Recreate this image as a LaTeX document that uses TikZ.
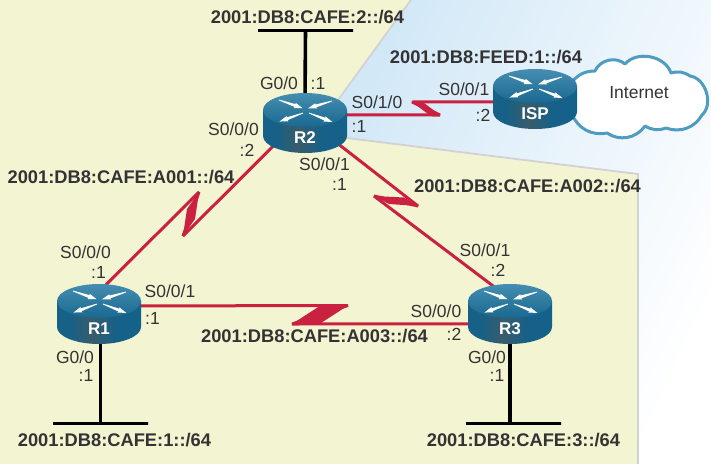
\documentclass[tikz,border=0pt]{standalone}
\usepackage{fontspec}
\setmainfont{Liberation Sans}
\usetikzlibrary{calc}
\pgfdeclarelayer{bg}
\pgfdeclarelayer{links}
\pgfsetlayers{bg,links,main}
\definecolor{txt}{HTML}{333333}
\definecolor{wire}{HTML}{C9213F}
\definecolor{paper}{HTML}{F3F4D2}
\definecolor{cloudline}{HTML}{4F9BC1}
\definecolor{rtop}{HTML}{237AA3}
\definecolor{rtopb}{HTML}{1A6890}
\definecolor{skyblue}{HTML}{D2E8F7}
\pgfdeclarehorizontalshading{routerbody}{100bp}{
 color(0bp)=(rgb:red,0.10;green,0.36;blue,0.50);
 color(32bp)=(rgb:red,0.09;green,0.39;blue,0.55);
 color(46bp)=(rgb:red,0.40;green,0.66;blue,0.77);
 color(60bp)=(rgb:red,0.09;green,0.39;blue,0.55);
 color(100bp)=(rgb:red,0.04;green,0.27;blue,0.40)}
\tikzset{
 addr/.style={anchor=base,inner sep=0pt,text=txt,font=\fontsize{18.3}{20}\selectfont\bfseries},
 port/.style={anchor=base,inner sep=0pt,text=txt,font=\fontsize{17.5}{20}\selectfont},
 routerbox/.style={draw=none,rectangle,minimum width=64pt,minimum height=40pt,inner sep=0pt,
   text=white,font=\fontsize{17}{20}\selectfont\bfseries},
 serial/.style={draw=wire,line width=3pt,line join=bevel},
 serialfill/.style={fill=wire},
 ethernet/.style={draw=black,line width=3.6pt},
 busbar/.style={draw=black,line width=3pt,rectangle,inner sep=0pt,minimum width=95pt,minimum height=0pt},
 rarrow/.pic={\fill[white] (0,-0.4)--(17,-1.5)--(16.5,-2.8)--(25,0)--(16.5,2.8)--(17,1.5)--(0,0.4)--cycle;}
}
\newcommand\routerart[4]{% name, x, y of top-ellipse centre, label
 \begin{scope}[shift={(#2,#3)}]
  \shade[shading=routerbody] (-42,0) -- (-42,26) .. controls (-42,35.4) and (-23.2,43) .. (0,43)
    .. controls (23.2,43) and (42,35.4) .. (42,26) -- (42,0) -- cycle;
  \shade[top color=rtop!85!white,bottom color=rtopb] (0,0) ellipse [x radius=42pt,y radius=17pt];
  \pic[rotate=-19] at (-26,-10) {rarrow};
  \pic[rotate=197] at (27,-9) {rarrow};
  \pic[rotate=200] at (-2,3) {rarrow};
  \pic[rotate=-21] at (4,3) {rarrow};
 \end{scope}
 \node[routerbox] (#1) at (#2,#3+13) {\raisebox{-20pt}[0pt][0pt]{#4}};
}
\begin{document}
\begin{tikzpicture}[x=1pt,y=-1pt]
\useasboundingbox (0,0) rectangle (711,463);
\begin{pgfonlayer}{bg}
 \fill[white] (0,0) rectangle (711,463);
 \shade[left color=skyblue,right color=white,shading angle=65] (330,0) rectangle (711,463);
 \fill[paper,draw=gray!35,line width=1.8pt] (413,-3) -- (338,100) -- (347,138) -- (500,157) -- (638,174) -- (638,470) -- (-5,470) -- (-5,-3) -- cycle;
\end{pgfonlayer}

% cloud
\path[fill=white,draw=cloudline,line width=3pt,line join=round]
 (572,82) to[bend left=25] (595,71) to[bend left=55] (625,64) to[bend left=60] (671,73)
 to[bend left=25] (690,76) to[bend left=65] (702,115) to[bend left=40] (666,128)
 to[bend left=25] (645,126) to[bend left=45] (607,133) to[bend left=40] (572,114) -- cycle;
\node[port] (inet) at (639,98) {Internet};

% routers
\routerart{r2}{305}{110}{R2}
\routerart{isp}{535}{86}{ISP}
\routerart{r1}{99}{301}{R1}
\routerart{r3}{510}{301}{R3}

% bus bars
\node[busbar] (bus2) at (305.5,30) {};
\node[busbar] (bus1) at (100.5,423) {};
\node[busbar] (bus3) at (513.5,423) {};

% bends of the serial links
\coordinate (a1) at (199,192); \coordinate (a2) at (183,236);
\coordinate (b1) at (418,206); \coordinate (b2) at (374,196);
\coordinate (c1) at (348,305.5); \coordinate (c2) at (292,324);
\coordinate (d1) at (440,115); \coordinate (d2) at (412,102);

\begin{pgfonlayer}{links}
 \draw[ethernet] (r2.north) -- (bus2.center);
 \draw[ethernet] (r1.south -| bus1.center) -- (bus1.center);
 \draw[ethernet] (r3.south) -- (r3.south |- bus3.center);
 \draw[serial] (r1.96) -- (a1) -- (a2) -- (r2.215);
 \draw[serial] (r2.-32) -- (b1) -- (b2) -- (r3.108);
 \draw[serial] (r1.14) -- (c1) -- (c2) -- (r3.197);
 \draw[serial] (r2.14) -- (d1) -- (d2) -- (isp.185);
 \fill[serialfill] (a1) -- (195,219) -- (a2) -- (187,209) -- cycle;
 \fill[serialfill] (b1) -- (404,197.5) -- (b2) -- (389,204) -- cycle;
 \fill[serialfill] (c1) -- (321,323) -- (c2) -- (319,306.5) -- cycle;
 \fill[serialfill] (d1) -- (428,114) -- (d2) -- (424,103) -- cycle;
\end{pgfonlayer}

% addresses
\node[addr] (n1) at (307.5,23) {2001:DB8:CAFE:2::/64};
\node[addr] (n2) at (486,63.5) {2001:DB8:FEED:1::/64};
\node[addr] (n3) at (121,183.5) {2001:DB8:CAFE:A001::/64};
\node[addr] (n4) at (527.5,192.5) {2001:DB8:CAFE:A002::/64};
\node[addr] (n5) at (314.5,342.5) {2001:DB8:CAFE:A003::/64};
\node[addr] (n6) at (114.5,446.5) {2001:DB8:CAFE:1::/64};
\node[addr] (n7) at (523.5,446.5) {2001:DB8:CAFE:3::/64};

% interface labels
\node[port] (p1) at (279,89.5) {G0/0};
\node[port] (p2) at (318,89.5) {:1};
\node[port] (p3) at (377,108.5) {S0/1/0};
\node[port] (p4) at (359,132.5) {:1};
\node[port] (p5) at (233.5,135.5) {S0/0/0};
\node[port] (p6) at (247,156.5) {:2};
\node[port] (p7) at (324.5,170.5) {S0/0/1};
\node[port] (p8) at (339.5,190.5) {:1};
\node[port] (p9) at (464,95.5) {S0/0/1};
\node[port] (p10) at (483,121.5) {:2};
\node[port] (p11) at (85.5,258.5) {S0/0/0};
\node[port] (p12) at (98.5,278.5) {:1};
\node[port] (p13) at (170,297.5) {S0/0/1};
\node[port] (p14) at (152.5,324.5) {:1};
\node[port] (p15) at (75,363.5) {G0/0};
\node[port] (p16) at (86,381.5) {:1};
\node[port] (p17) at (485,256.5) {S0/0/1};
\node[port] (p18) at (498,276.5) {:2};
\node[port] (p19) at (436,317.5) {S0/0/0};
\node[port] (p20) at (454,340.5) {:2};
\node[port] (p21) at (487,363.5) {G0/0};
\node[port] (p22) at (497,381.5) {:1};
\end{tikzpicture}
\end{document}
